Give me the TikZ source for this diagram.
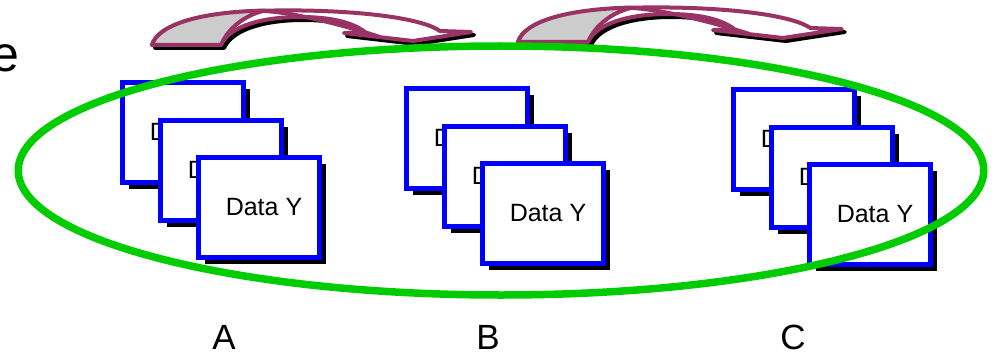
\documentclass[tikz,border=0pt]{standalone}
\usepackage{fontspec}
\setmainfont{Liberation Sans}
\usetikzlibrary{shadows}

\definecolor{boxblue}{RGB}{0,0,255}
\definecolor{ringgreen}{RGB}{0,204,0}
\definecolor{plum}{RGB}{153,51,102}
\definecolor{backgray}{RGB}{204,204,204}

\tikzset{
  databox/.style={draw=boxblue, line width=5pt, fill=white,
    minimum width=121pt, minimum height=100pt, inner sep=0pt,
    font=\fontsize{25}{30}\selectfont,
    drop shadow={fill=black, opacity=1, shadow xshift=6pt, shadow yshift=-6pt}},
  grouplabel/.style={font=\fontsize{35}{42}\selectfont, inner sep=0pt,
    text depth=0pt, anchor=base},
  ring/.style={draw=ringgreen, line width=7.5pt},
  bend line/.style={draw=plum, line width=4pt, line join=round},
  % flattened curved block arrow, tail at the origin, head pointing down on the right
  bentarrow/.pic={
    \def\outline{(0,0) .. controls (6,-20) and (48,-33) .. (123,-34.5)
        .. controls (198,-35.5) and (268,-28) .. (288,-14)
        -- (319,-13) -- (261,-4) -- (192,-12) -- (213,-13)
        .. controls (200,-23) and (178,-28) .. (148,-28)
        .. controls (113,-28) and (78,-20) .. (69,0) -- cycle}
    \path[fill=black, draw=black, line width=4pt, line join=round,
          shift={(3,3)}] \outline;
    \path[bend line, fill=white] \outline;
    \path[bend line, fill=backgray] (0,0) .. controls (6,-20) and (46,-33) .. (113,-34.5)
        .. controls (93,-30) and (76,-17) .. (69,0) -- cycle;
    \path[bend line] (113,-34) .. controls (143,-32) and (188,-21) .. (228,-8);
  }
}

\newcommand{\datastack}[3]{%
  \node[databox] (#31) at (#1,#2) {\hspace*{10pt}Data Y};
  \node[databox] (#32) at (#1+38,#2+38) {\hspace*{10pt}Data Y};
  \node[databox] (#33) at (#1+76,#2+75) {\hspace*{10pt}Data Y};
}

\begin{document}
\begin{tikzpicture}[x=1pt,y=-1pt]
  \useasboundingbox (0,0) rectangle (996,353);
  \clip (0,0) rectangle (996,353);

  % word running in from the left edge
  \node[anchor=base east, inner sep=0pt, font=\fontsize{50}{60}\selectfont]
    (cutword) at (19.5,72) {e};

  % transfer arrows
  \pic at (152,45) {bentarrow};
  \pic[xscale=1.015] at (518,42) {bentarrow};

  % three stacks of data sheets
  \datastack{183}{132.5}{a}
  \datastack{467}{138.5}{b}
  \datastack{794}{139.5}{c}

  % group labels
  \node[grouplabel] (labA) at (224,349) {A};
  \node[grouplabel] (labB) at (488,349) {B};
  \node[grouplabel] (labC) at (793,349) {C};

  % ring around all three stacks
  \draw[ring] (501,170.5) ellipse [x radius=482.75pt, y radius=124.5pt];
\end{tikzpicture}
\end{document}
